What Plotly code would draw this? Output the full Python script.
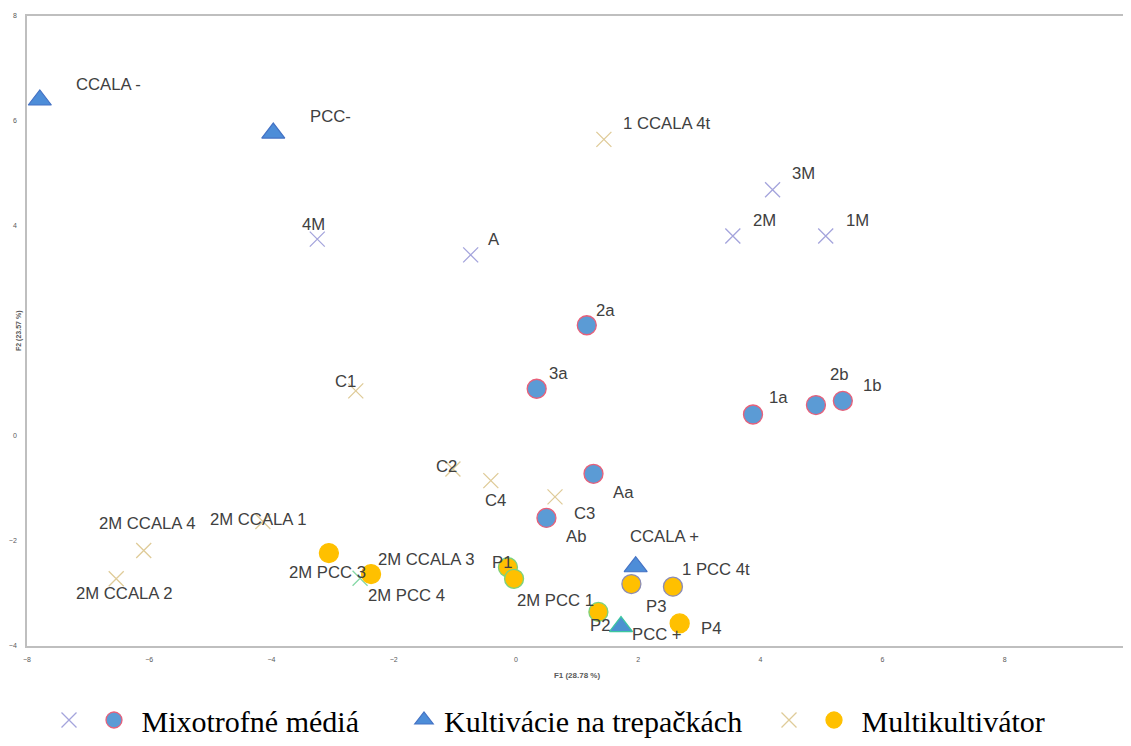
import plotly.graph_objects as go

# ---------------- data ----------------
# Mixotrofné médiá – crosses
mix_x_labels = ["4M", "A", "3M", "2M", "1M"]
mix_x_f1 = [-3.25, -0.74, 4.20, 3.55, 5.07]
mix_x_f2 = [3.75, 3.45, 4.69, 3.81, 3.81]
# Mixotrofné médiá – circles
mix_c_labels = ["2a", "3a", "1a", "2b", "1b", "Aa", "Ab"]
mix_c_f1 = [1.16, 0.34, 3.88, 4.91, 5.35, 1.27, 0.50]
mix_c_f2 = [2.11, 0.90, 0.41, 0.59, 0.67, -0.72, -1.56]
# Kultivácie na trepačkách – triangles
kul_labels = ["CCALA -", "PCC-", "CCALA +", "PCC +"]
kul_f1 = [-7.79, -3.97, 1.96, 1.72]
kul_f2 = [6.40, 5.77, -2.49, -3.63]
# Multikultivátor – crosses
mul_x_labels = ["1 CCALA 4t", "C1", "C2", "C4", "C3",
                "2M CCALA 4", "2M CCALA 2", "2M CCALA 1", "2M CCALA 3"]
mul_x_f1 = [1.44, -2.62, -1.03, -0.41, 0.64, -6.09, -6.54, -4.14, -2.55]
mul_x_f2 = [5.65, 0.86, -0.63, -0.85, -1.16, -2.18, -2.72, -1.63, -2.71]
# Multikultivátor – circles
mul_c_labels = ["2M PCC 3", "2M PCC 4", "P1", "2M PCC 1", "P3", "1 PCC 4t", "P2", "P4"]
mul_c_f1 = [-3.06, -2.37, -0.13, -0.03, 1.89, 2.57, 1.35, 2.68]
mul_c_f2 = [-2.23, -2.63, -2.50, -2.72, -2.82, -2.87, -3.35, -3.57]

x_title = "F1 (28.78 %)"
y_title = "F2 (23.57 %)"
legend_names = ["Mixotrofné médiá", "Kultivácie na trepačkách", "Multikultivátor"]

# ---------------- label placement (pixel offsets from the point) ----------------
label_offsets = {
    "4M": (-4, -15), "A": (23, -15), "3M": (31, -16), "2M": (32, -15), "1M": (32, -15),
    "2a": (19, -15), "3a": (22, -15), "1a": (25, -17), "2b": (24, -31), "1b": (30, -15),
    "Aa": (30, 19), "Ab": (30, 19),
    "CCALA -": (69, -16), "PCC-": (57, -17), "CCALA +": (29, -30), "PCC +": (36, 8),
    "1 CCALA 4t": (63, -16), "C1": (-10, -9), "C2": (-6, -3), "C4": (5, 20), "C3": (29, 17),
    "2M CCALA 4": (3, -27), "2M CCALA 2": (8, 15), "2M CCALA 1": (-5, -2), "2M CCALA 3": (66, -19),
    "2M PCC 3": (-1, 19), "2M PCC 4": (35, 21), "P1": (-6, -5), "2M PCC 1": (41, 22),
    "P3": (25, 22), "1 PCC 4t": (43, -17), "P2": (2, 14), "P4": (31, 5),
}

LAV = "#a4a4dc"
TAN = "#dfcb98"
GREEN_X = "#86d8a6"
BLUE = "#5b9bd5"
PINK = "#e8607a"
TRI = "#4d8dd8"
TRI_LINE = "#4472c4"
ORANGE = "#ffc000"
NBSP = "\u00a0"

# the page body has an 8 px margin; the figure is shrunk by it so the plot lands where the reference has it
PAGE_PAD = 8
FIG_W, FIG_H = 1131 - PAGE_PAD, 746 - PAGE_PAD

fig = go.Figure()

fig.add_trace(go.Scatter(
    x=mix_x_f1, y=mix_x_f2, mode="markers", name="", legend="legend",
    marker=dict(symbol="x-thin-open", size=15, line=dict(color=LAV, width=1.3), color=LAV),
    hovertext=mix_x_labels, hoverinfo="text"))
fig.add_trace(go.Scatter(
    x=mix_c_f1, y=mix_c_f2, mode="markers", name=NBSP + legend_names[0], legend="legend",
    marker=dict(symbol="circle", size=19, color=BLUE, line=dict(color=PINK, width=1.3)),
    hovertext=mix_c_labels, hoverinfo="text"))
fig.add_trace(go.Scatter(
    x=kul_f1, y=kul_f2, mode="markers", name=legend_names[1], legend="legend2",
    marker=dict(symbol="triangle-up", size=20, color=[TRI, TRI, TRI, "#4b92d0"],
                line=dict(color=[TRI_LINE, TRI_LINE, TRI_LINE, "#3cc8a0"], width=1.2)),
    hovertext=kul_labels, hoverinfo="text"))
fig.add_trace(go.Scatter(
    x=mul_x_f1, y=mul_x_f2, mode="markers", name="", legend="legend3",
    marker=dict(symbol="x-thin-open", size=15,
                color=[TAN] * 8 + [GREEN_X],
                line=dict(color=[TAN] * 8 + [GREEN_X], width=1.3)),
    hovertext=mul_x_labels, hoverinfo="text"))
fig.add_trace(go.Scatter(
    x=mul_c_f1, y=mul_c_f2, mode="markers", name=NBSP + legend_names[2], legend="legend3",
    marker=dict(symbol="circle", size=19, color=ORANGE,
                line=dict(color=[ORANGE, ORANGE, "#7cd27c", "#7cd27c", "#8c8cb4",
                                 "#8c8cb4", "#7cd27c", ORANGE], width=1.3)),
    hovertext=mul_c_labels, hoverinfo="text"))

# point labels
for labs, xs, ys in [(mix_x_labels, mix_x_f1, mix_x_f2), (mix_c_labels, mix_c_f1, mix_c_f2),
                     (kul_labels, kul_f1, kul_f2), (mul_x_labels, mul_x_f1, mul_x_f2),
                     (mul_c_labels, mul_c_f1, mul_c_f2)]:
    for lab, xv, yv in zip(labs, xs, ys):
        dx, dy = label_offsets[lab]
        fig.add_annotation(x=xv, y=yv, xref="x", yref="y", text=lab, showarrow=False,
                           xshift=dx, yshift=-dy,
                           font=dict(family="Liberation Sans, Arial", size=16.7, color="#404040"))

# y axis title (placed where Excel draws it, over the tick-label column)
fig.add_annotation(x=0, y=0.5, xref="paper", yref="paper", xshift=-14, text="<b>" + y_title + "</b>",
                   textangle=-90, showarrow=False,
                   font=dict(family="Liberation Sans, Arial", size=7, color="#595959"))

axis_common = dict(showgrid=False, zeroline=False, showline=True, mirror=True, automargin=False,
                   linecolor="#bfbfbf", linewidth=1.5, ticks="",
                   tickfont=dict(family="Liberation Sans, Arial", size=7, color="#595959"))

leg_common = dict(orientation="h", yref="container", yanchor="bottom", y=0, xanchor="left",
                  font=dict(family="Liberation Serif, Times New Roman", size=30, color="#000000"),
                  bgcolor="rgba(0,0,0,0)", itemclick=False, itemdoubleclick=False)

L, T, R, B = 27 - PAGE_PAD, 16 - PAGE_PAD, 4, 100
PW = FIG_W - L - R

fig.update_layout(
    width=FIG_W, height=FIG_H, autosize=False,
    margin=dict(l=L, r=R, t=T, b=B, autoexpand=False),
    paper_bgcolor="white", plot_bgcolor="white",
    showlegend=True,
    xaxis=dict(range=[-8, 10], tick0=-8, dtick=2, ticklabelstandoff=6,
               title=dict(text="<b>" + x_title + "</b>", standoff=10,
                          font=dict(family="Liberation Sans, Arial", size=8, color="#595959")),
               **axis_common),
    yaxis=dict(range=[-4, 8], tickvals=[-4, -2, 0, 4, 6, 8], ticklabelstandoff=7, **axis_common),
    xaxis2=dict(overlaying="x", anchor="free", position=4 / 12, range=[-8, 10], tick0=-8, dtick=2,
                showgrid=False, zeroline=False, showline=True, linecolor="#d4d4d4", linewidth=1.5,
                ticks="outside", ticklen=3, tickcolor="#d4d4d4", showticklabels=False,
                automargin=False),
    yaxis2=dict(overlaying="y", anchor="free", position=8 / 18, range=[-4, 8], dtick=2,
                showgrid=False, zeroline=False, showline=True, linecolor="#d4d4d4", linewidth=1.5,
                ticks="outside", ticklen=3, tickcolor="#d4d4d4", showticklabels=False,
                automargin=False),
    legend=dict(x=(49 - 27) / PW, **leg_common),
    legend2=dict(x=(404 - 27) / PW, **leg_common),
    legend3=dict(x=(769 - 27) / PW, **leg_common),
)

fig.write_html("out.html")
